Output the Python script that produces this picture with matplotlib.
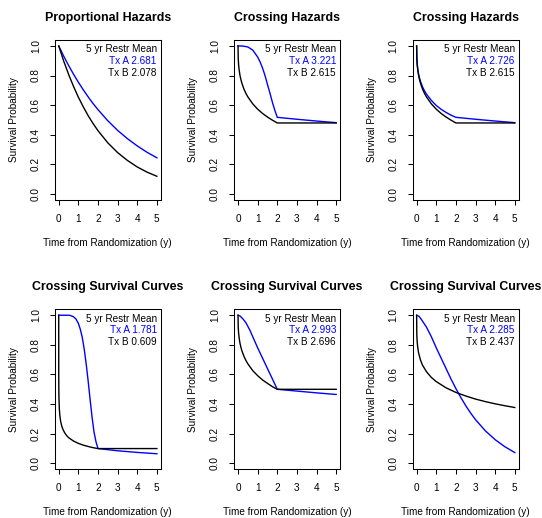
import matplotlib
matplotlib.use('Agg')
import matplotlib.pyplot as plt

plt.rcParams['font.family'] = ['Liberation Sans', 'DejaVu Sans']

# ---------------- data ----------------
titles = ["Proportional Hazards", "Crossing Hazards", "Crossing Hazards",
          "Crossing Survival Curves", "Crossing Survival Curves", "Crossing Survival Curves"]
rmst_A = [2.681, 3.221, 2.726, 1.781, 2.993, 2.285]
rmst_B = [2.078, 2.615, 2.615, 0.609, 2.696, 2.437]
x_ticks = [0, 1, 2, 3, 4, 5]
y_ticks = [0.0, 0.2, 0.4, 0.6, 0.8, 1.0]

# Panel 1 – proportional hazards
t1 = [0, 0.25, 0.5, 0.75, 1, 1.25, 1.5, 1.75, 2, 2.5, 3, 3.5, 4, 4.5, 5]
sA1 = [1, 0.932, 0.869, 0.810, 0.755, 0.704, 0.656, 0.611, 0.570, 0.495, 0.430, 0.374, 0.325, 0.282, 0.245]
sB1 = [1, 0.899, 0.809, 0.728, 0.654, 0.589, 0.529, 0.476, 0.428, 0.346, 0.280, 0.227, 0.183, 0.148, 0.120]

# Panel 2 – crossing hazards
tA2 = [0, 0.25, 0.5, 0.75, 1, 1.125, 1.25, 1.375, 1.5, 1.625, 1.75, 1.875, 2, 3, 4, 5]
sA2 = [1, 0.999, 0.993, 0.972, 0.925, 0.892, 0.85, 0.80, 0.74, 0.682, 0.62, 0.565, 0.518, 0.505, 0.493, 0.482]
tB2 = [0, 0.01, 0.03, 0.06, 0.1, 0.15, 0.2, 0.3, 0.4, 0.5, 0.75, 1, 1.25, 1.5, 1.75, 2, 5]
sB2 = [1, 0.916, 0.872, 0.835, 0.801, 0.771, 0.747, 0.709, 0.680, 0.656, 0.609, 0.573, 0.544, 0.520, 0.499, 0.480, 0.480]

# Panel 3 – crossing hazards
tA3 = [0, 0.01, 0.03, 0.06, 0.1, 0.15, 0.2, 0.3, 0.4, 0.5, 0.75, 1, 1.25, 1.5, 1.75, 2, 3, 4, 5]
sA3 = [1, 0.92, 0.878, 0.843, 0.81, 0.782, 0.76, 0.724, 0.697, 0.675, 0.632, 0.598, 0.572, 0.551, 0.533, 0.518, 0.505, 0.493, 0.482]
tB3 = [0, 0.01, 0.03, 0.06, 0.1, 0.15, 0.2, 0.3, 0.4, 0.5, 0.75, 1, 1.25, 1.5, 1.75, 2, 5]
sB3 = [1, 0.916, 0.872, 0.835, 0.801, 0.771, 0.747, 0.709, 0.680, 0.656, 0.609, 0.573, 0.544, 0.520, 0.499, 0.480, 0.480]

# Panel 4 – crossing survival curves
tA4 = [0, 0.25, 0.5, 0.6, 0.75, 0.875, 1, 1.1, 1.2, 1.3, 1.4, 1.5, 1.6, 1.7, 1.8, 1.9, 2, 3, 4, 5]
sA4 = [1, 1.0, 1.0, 0.998, 0.99, 0.975, 0.945, 0.905, 0.85, 0.77, 0.67, 0.555, 0.43, 0.31, 0.21, 0.145, 0.1, 0.085, 0.074, 0.065]
tB4 = [0, 0.001, 0.005, 0.01, 0.03, 0.06, 0.1, 0.15, 0.2, 0.3, 0.4, 0.5, 0.75, 1, 1.25, 1.5, 1.75, 2, 5]
sB4 = [1, 0.604, 0.499, 0.45, 0.37, 0.319, 0.282, 0.254, 0.234, 0.207, 0.188, 0.174, 0.151, 0.135, 0.123, 0.114, 0.106, 0.1, 0.1]

# Panel 5 – crossing survival curves
tA5 = [0, 0.1, 0.25, 0.4, 0.6, 0.8, 1, 1.25, 1.5, 1.75, 2, 3, 4, 5]
sA5 = [1, 0.995, 0.975, 0.95, 0.9, 0.84, 0.78, 0.71, 0.64, 0.57, 0.5, 0.488, 0.476, 0.465]
tB5 = [0, 0.01, 0.03, 0.06, 0.1, 0.15, 0.2, 0.3, 0.4, 0.5, 0.75, 1, 1.25, 1.5, 1.75, 2, 5]
sB5 = [1, 0.920, 0.879, 0.844, 0.811, 0.782, 0.759, 0.723, 0.695, 0.672, 0.626, 0.592, 0.563, 0.540, 0.518, 0.5, 0.5]

# Panel 6 – crossing survival curves
tA6 = [0, 0.125, 0.25, 0.5, 0.75, 1, 1.25, 1.5, 1.75, 2, 2.25, 2.5, 2.75, 3, 3.5, 4, 4.5, 5]
sA6 = [1, 0.992, 0.97, 0.92, 0.855, 0.78, 0.71, 0.64, 0.57, 0.505, 0.445, 0.39, 0.34, 0.295, 0.22, 0.16, 0.112, 0.073]
tB6 = [0, 0.01, 0.03, 0.06, 0.1, 0.2, 0.3, 0.5, 0.75, 1, 1.5, 2, 2.5, 3, 3.5, 4, 4.5, 5]
sB6 = [1, 0.866, 0.817, 0.779, 0.746, 0.696, 0.663, 0.619, 0.58, 0.552, 0.51, 0.479, 0.455, 0.434, 0.417, 0.402, 0.389, 0.377]

curves_A = [(t1, sA1), (tA2, sA2), (tA3, sA3), (tA4, sA4), (tA5, sA5), (tA6, sA6)]
curves_B = [(t1, sB1), (tB2, sB2), (tB3, sB3), (tB4, sB4), (tB5, sB5), (tB6, sB6)]

# ---------------- layout ----------------
W, H = 542, 518
fig = plt.figure(figsize=(W / 100, H / 100), dpi=100)
lefts_px = [54.8, 234.1, 412.7]
tops_px = [40.0, 309.3]
aw, ah = 106.0, 160.0
fs = 7.2

for i in range(6):
    r, c = divmod(i, 3)
    L, T = lefts_px[c], tops_px[r]
    ax = fig.add_axes([L / W, 1 - (T + ah) / H, aw / W, ah / H])
    tA, sA = curves_A[i]
    tB, sB = curves_B[i]
    ax.plot(tA, sA, color='blue', lw=1.0)
    ax.plot(tB, sB, color='black', lw=1.0)
    ax.set_xlim(-0.2, 5.2)
    ax.set_ylim(-0.04, 1.04)
    ax.set_xticks(x_ticks)
    ax.set_xticklabels([str(v) for v in x_ticks])
    ax.set_yticks(y_ticks)
    ax.set_yticklabels([f'{v:.1f}' for v in y_ticks], rotation=90, va='center')
    ax.tick_params(length=3.6, width=0.75, pad=6.5, labelsize=fs, direction='out')
    for sp in ax.spines.values():
        sp.set_linewidth(0.75)
    ax.set_title(titles[i], fontsize=8.9, fontweight='bold', pad=13.9)

    # legend text
    ax.text(0.962, 0.942, "5 yr Restr Mean", transform=ax.transAxes,
            ha='right', va='center', fontsize=fs, color='black')
    ax.text(0.962, 0.869, f"Tx A {rmst_A[i]:.3f}", transform=ax.transAxes,
            ha='right', va='center', fontsize=fs, color='blue')
    ax.text(0.962, 0.796, f"Tx B {rmst_B[i]:.3f}", transform=ax.transAxes,
            ha='right', va='center', fontsize=fs, color='black')

    # axis labels
    fig.text((L + aw / 2) / W, 1 - (T + ah + 43) / H, "Time from Randomization (y)",
             ha='center', va='center', fontsize=fs)
    fig.text((L - 41) / W, 1 - (T + ah / 2) / H, "Survival Probability",
             ha='center', va='center', rotation=90, fontsize=fs)

fig.savefig('out.png', dpi=100)
